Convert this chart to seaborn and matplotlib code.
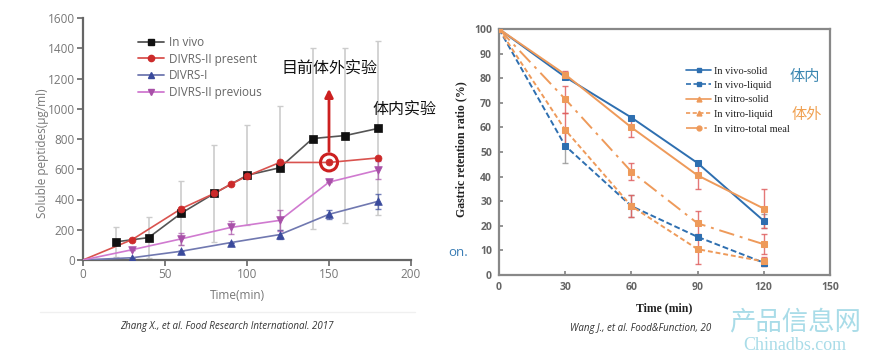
import matplotlib
matplotlib.use('Agg')
import matplotlib.pyplot as plt
from matplotlib.lines import Line2D
import numpy as np
import pandas as pd
import seaborn as sns

# left panel: soluble peptides vs time
t_vivo = [20, 40, 60, 80, 100, 120, 140, 160, 180]
vivo = [120, 148, 310, 440, 560, 610, 803, 823, 870]
vivo_err = [100, 135, 210, 320, 330, 410, 600, 580, 575]

t_present = [0, 30, 60, 80, 90, 100, 120, 150, 180]
present = [0, 135, 340, 440, 500, 555, 645, 645, 675]

t_other = [0, 30, 60, 90, 120, 150, 180]
divrs1 = [0, 15, 58, 115, 168, 302, 388]
divrs1_err = [0, 0, 0, 0, 30, 30, 50]
previous = [0, 68, 140, 215, 262, 515, 595]
previous_err = [0, 0, 40, 45, 70, 0, 60]

# right panel: gastric retention ratio
t_gast = [0, 30, 60, 90, 120]
vivo_solid = [100, 80.5, 64, 45.5, 22]
vivo_solid_err = [0, 1, 0, 0, 3]
vivo_liquid = [100, 52.5, 28, 15.5, 5]
vivo_liquid_err = [0, 7, 4.5, 0, 1.5]
vitro_solid = [100, 81.5, 60, 40.5, 27]
vitro_solid_err = [0, 1.5, 4, 5.5, 8]
vitro_liquid = [100, 59, 28, 10.5, 5.5]
vitro_liquid_err = [0, 7, 4.5, 6, 2]
vitro_meal = [100, 71.5, 42, 21, 12.5]
vitro_meal_err = [0, 5.5, 3.5, 5, 4]

sns.set_style('white')
plt.rcParams['font.family'] = ['Open Sans', 'DejaVu Sans']

fig = plt.figure(figsize=(8.75, 3.55), dpi=100)
ax1 = fig.add_axes([83/875, 1-260/355, 328/875, 242/355])
ax2 = fig.add_axes([499/875, 1-275/355, 331/875, 246/355])

# ---------- left chart ----------
left_series = [
    ('In vivo', t_vivo, vivo, vivo_err, '#555555', '#111111', 's', 5.5),
    ('DIVRS-II present', t_present, present, None, '#d9534f', '#cc2a2a', 'o', 5),
    ('DIVRS-I', t_other, divrs1, divrs1_err, '#7078b0', '#3a4a9c', '^', 5.5),
    ('DIVRS-II previous', t_other, previous, previous_err, '#d07ad0', '#a850a8', 'v', 5.5),
]

# in vivo error bars first (light gray, behind)
ax1.errorbar(t_vivo, vivo, yerr=vivo_err, fmt='none', ecolor='#cccccc',
             elinewidth=1.2, capsize=2, capthick=1, zorder=1)
handles = []
for name, tt, vv, ee, lc, mc, mk, ms in left_series:
    d = pd.DataFrame({'t': tt, 'v': vv})
    sns.lineplot(data=d, x='t', y='v', ax=ax1, color=lc, lw=1.2, zorder=3)
    if ee is not None and name != 'In vivo':
        ax1.errorbar(tt, vv, yerr=ee, fmt='none', ecolor=mc, elinewidth=1,
                     capsize=2, alpha=0.7, zorder=2)
    dm = d[d['t'] > 0]
    sns.scatterplot(data=dm, x='t', y='v', ax=ax1, marker=mk, color=mc,
                    s=ms**2, edgecolor=mc, linewidth=0.5, zorder=4)
    handles.append(Line2D([], [], color=lc, lw=1.3, marker=mk, markersize=4.5,
                          markerfacecolor=mc, markeredgecolor=mc, label=name))

ax1.set_xlim(0, 200)
ax1.set_ylim(0, 1600)
ax1.set_xticks(range(0, 201, 50))
ax1.set_yticks(range(0, 1601, 200))
for s in ['top', 'right']:
    ax1.spines[s].set_visible(False)
for s in ['left', 'bottom']:
    ax1.spines[s].set_color('#666666')
    ax1.spines[s].set_linewidth(1.6)
ax1.tick_params(axis='both', direction='out', length=4, width=1.2,
                color='#666666', labelcolor='#777777', labelsize=8.5, pad=2,
                left=True, bottom=True)
ax1.set_xlabel('Time(min)', color='#777777', fontsize=8.5)
ax1.set_ylabel('Soluble peptides(μg/ml)', color='#777777', fontsize=8.5)
ax1.xaxis.set_label_coords(0.47, -0.12)
ax1.yaxis.set_label_coords(-0.105, 0.44)
ax1.legend(handles=handles, loc='upper left', bbox_to_anchor=(0.151, 0.915),
           bbox_transform=fig.transFigure, frameon=False, fontsize=8.5,
           labelspacing=0.3, handlelength=2.2, handletextpad=0.4,
           labelcolor='#666666', borderpad=0)

# highlight ring and arrow
ax1.scatter([150], [645], s=150, facecolor='none', edgecolor='#cc2020', linewidth=2.2, zorder=5)
ax1.annotate('', xy=(150, 1150), xytext=(150, 700),
             arrowprops=dict(arrowstyle='-|>', color='#cc2020', lw=2, mutation_scale=12),
             zorder=5)
cjk = ['Noto Sans CJK SC', 'DejaVu Sans']
fig.text(329/875, 1-69/355, '目前体外实验', ha='center', va='center', fontsize=11.5,
         family=cjk, color='#111111')
fig.text(404/875, 1-110/355, '体内实验', ha='center', va='center', fontsize=11.5,
         family=cjk, color='#111111')

# ---------- right chart ----------
blue = '#2e6fb0'
orange = '#ee9a5a'
right_series = [
    ('In vivo-solid', vivo_solid, vivo_solid_err, blue, '-', 's', '#999999'),
    ('In vivo-liquid', vivo_liquid, vivo_liquid_err, blue, (0, (3, 1.5)), 's', '#999999'),
    ('In vitro-solid', vitro_solid, vitro_solid_err, orange, '-', '^', '#e06060'),
    ('In vitro-liquid', vitro_liquid, vitro_liquid_err, orange, (0, (2.5, 1.5)), '^', '#e06060'),
    ('In vitro-total meal', vitro_meal, vitro_meal_err, orange, (0, (8, 3, 1.5, 3)), 'o', '#e06060'),
]
handles2 = []
for name, vv, ee, c, ls, mk, ec in right_series:
    d = pd.DataFrame({'t': t_gast, 'v': vv})
    ax2.errorbar(t_gast, vv, yerr=ee, fmt='none', ecolor=ec, elinewidth=1,
                 capsize=2, alpha=0.85, zorder=2)
    sns.lineplot(data=d, x='t', y='v', ax=ax2, color=c, lw=1.4, linestyle=ls,
                 marker='s', markersize=5, markeredgecolor=c, markerfacecolor=c,
                 zorder=3)
    handles2.append(Line2D([], [], color=c, lw=1.2, linestyle=ls, marker=mk,
                           markersize=3.5, markerfacecolor=c, markeredgecolor=c,
                           label=name))

ax2.set_xlim(0, 150)
ax2.set_ylim(0, 100)
ax2.set_xticks(range(0, 151, 30))
ax2.set_yticks(range(0, 101, 10))
for s in ax2.spines.values():
    s.set_color('#888888')
    s.set_linewidth(1.6)
    s.set_visible(True)
ax2.tick_params(axis='both', direction='in', length=3, width=1.1,
                color='#777777', labelcolor='#666666', labelsize=7.5, pad=5,
                left=True, bottom=True)
for lab in ax2.get_xticklabels() + ax2.get_yticklabels():
    lab.set_fontweight('bold')
serif = ['Liberation Serif', 'DejaVu Serif']
ax2.set_xlabel('Time (min)', fontsize=8.5, fontweight='bold', family=serif, color='#222222')
ax2.set_ylabel('Gastric retention ratio (%)', fontsize=8.5, fontweight='bold',
               family=serif, color='#222222')
ax2.xaxis.set_label_coords(0.5, -0.11)
ax2.yaxis.set_label_coords(-0.095, 0.51)
ax2.legend(handles=handles2, loc='upper left', bbox_to_anchor=(681/875, 1-61/355),
           bbox_transform=fig.transFigure, frameon=False,
           prop={'family': serif, 'size': 7.5}, labelspacing=0.5,
           handlelength=2.4, handletextpad=0.3, borderpad=0, labelcolor='#222222')
fig.text(805/875, 1-77/355, '体内', ha='center', va='center', fontsize=11,
         family=cjk, color='#3a86b0')
fig.text(807/875, 1-115/355, '体外', ha='center', va='center', fontsize=11,
         family=cjk, color='#f0a050')

# ---------- captions and leftovers ----------
fig.add_artist(Line2D([40/875, 415/875], [1-312/355, 1-312/355], color='#f0f0f0', lw=1))
fig.text(227/875, 1-327/355, 'Zhang X., et al. Food Research International. 2017',
         ha='center', va='center', fontsize=7, style='italic', color='#333333')
fig.text(570/875, 1-328/355, 'Wang J., et al. Food&Function, 20',
         ha='left', va='center', fontsize=7, style='italic', color='#333333')
fig.text(448/875, 1-253/355, 'on.', ha='left', va='center', fontsize=9.5, color='#3a7db5')
fig.text(795/875, 1-322/355, '产品信息网', ha='center', va='center', fontsize=19,
         family=cjk, color='#a9dce8')
fig.text(795/875, 1-345/355, 'Chinadbs.com', ha='center', va='center', fontsize=13,
         family=serif, color='#a9dce8')

fig.savefig('out.png', dpi=100, facecolor='white')
